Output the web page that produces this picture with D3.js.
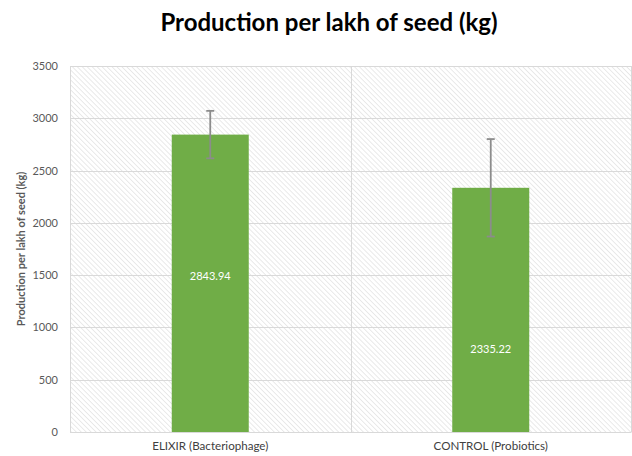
<!DOCTYPE html>
<html>
<head>
<meta charset="utf-8">
<script src="https://cdn.jsdelivr.net/npm/d3@7"></script>
<style>
html,body{margin:0;padding:0;background:#fff;}
svg{display:block;}
</style>
</head>
<body>
<svg id="chart" width="632" height="456"></svg>
<script>
const categories = ["ELIXIR (Bacteriophage)", "CONTROL (Probiotics)"];
const values = [2843.94, 2335.22];
const errors = [227, 466];
const labelAnchors = [1490, 790];
const yTicks = [0, 500, 1000, 1500, 2000, 2500, 3000, 3500];
const titleText = "Production per lakh of seed (kg)";
const yAxisTitle = "Production per lakh of seed (kg)";

const svg = d3.select("#chart");
const margin = {left: 70, right: 1, top: 66, bottom: 24};
const W = 632, H = 456;
const font = "Lato, 'Open Sans', sans-serif";

const x = d3.scaleBand().domain(categories).range([margin.left, W - margin.right]).paddingInner(0).paddingOuter(0);
const y = d3.scaleLinear().domain([0, 3500]).range([H - margin.bottom, margin.top]);

// hatch pattern
const defs = svg.append("defs");
const pat = defs.append("pattern").attr("id", "hatch").attr("patternUnits", "userSpaceOnUse")
  .attr("width", 3.5).attr("height", 3.5).attr("patternTransform", "rotate(-45)");
pat.append("rect").attr("width", 3.5).attr("height", 3.5).attr("fill", "#fff");
pat.append("line").attr("x1", 0).attr("y1", 0).attr("x2", 0).attr("y2", 3.5)
  .attr("stroke", "#d6d6d6").attr("stroke-width", 1);

svg.append("rect").attr("x", x.range()[0]).attr("y", y(3500))
  .attr("width", x.range()[1] - x.range()[0]).attr("height", y(0) - y(3500))
  .attr("fill", "url(#hatch)");

// gridlines
svg.append("g").selectAll("line").data(yTicks).join("line")
  .attr("x1", x.range()[0]).attr("x2", x.range()[1])
  .attr("y1", d => Math.round(y(d)) + 0.5).attr("y2", d => Math.round(y(d)) + 0.5)
  .attr("stroke", "#d9d9d9").attr("stroke-width", 1);

// vertical category separators
const seps = [x.range()[0], x(categories[1]), x.range()[1] - 0.5];
svg.append("g").selectAll("line").data(seps).join("line")
  .attr("x1", d => Math.round(d) + 0.5).attr("x2", d => Math.round(d) + 0.5)
  .attr("y1", y(3500)).attr("y2", y(0))
  .attr("stroke", "#d9d9d9").attr("stroke-width", 1);

// y tick labels via axis
const yAxis = d3.axisLeft(y).tickValues(yTicks).tickSize(0).tickPadding(12).tickFormat(d3.format("d"));
const ga = svg.append("g").attr("transform", `translate(${margin.left},0)`).call(yAxis);
ga.select(".domain").remove();
ga.selectAll("text").attr("font-family", font).attr("font-size", 11).attr("fill", "#595959");

// x axis labels
const xAxis = d3.axisBottom(x).tickSize(0).tickPadding(10);
const gx = svg.append("g").attr("transform", `translate(0,${y(0)})`).call(xAxis);
gx.select(".domain").attr("stroke", "#d9d9d9");
gx.selectAll("text").attr("font-family", font).attr("font-size", 11.6).attr("fill", "#404040");

// bars
const barW = 77;
svg.append("g").selectAll("rect").data(values).join("rect")
  .attr("x", (d, i) => x(categories[i]) + x.bandwidth() / 2 - barW / 2)
  .attr("width", barW)
  .attr("y", d => y(d)).attr("height", d => y(0) - y(d))
  .attr("fill", "#70ad47");

// error bars
const eg = svg.append("g").attr("stroke", "#8c8c8c").attr("stroke-width", 1.8);
values.forEach((v, i) => {
  const cx = x(categories[i]) + x.bandwidth() / 2;
  eg.append("line").attr("x1", cx).attr("x2", cx).attr("y1", y(v + errors[i])).attr("y2", y(v - errors[i]));
  [v + errors[i], v - errors[i]].forEach(e => {
    eg.append("line").attr("x1", cx - 4).attr("x2", cx + 4).attr("y1", y(e)).attr("y2", y(e));
  });
});

// value labels
svg.append("g").selectAll("text").data(values).join("text")
  .attr("x", (d, i) => x(categories[i]) + x.bandwidth() / 2)
  .attr("y", (d, i) => y(labelAnchors[i]))
  .attr("dy", "0.35em")
  .attr("text-anchor", "middle")
  .attr("font-family", font).attr("font-size", 11).attr("fill", "#ffffff")
  .text(d => d.toFixed(2));

// title
svg.append("text").attr("x", 329).attr("y", 31).attr("text-anchor", "middle")
  .attr("font-family", font).attr("font-size", 24).attr("font-weight", "bold").attr("fill", "#000")
  .text(titleText);

// y axis title
svg.append("text").attr("transform", `translate(21,${(y(0) + y(3500)) / 2}) rotate(-90)`)
  .attr("text-anchor", "middle").attr("dy", "0.35em")
  .attr("font-family", font).attr("font-size", 11).attr("font-weight", "bold").attr("fill", "#595959")
  .text(yAxisTitle);
</script>
</body>
</html>
